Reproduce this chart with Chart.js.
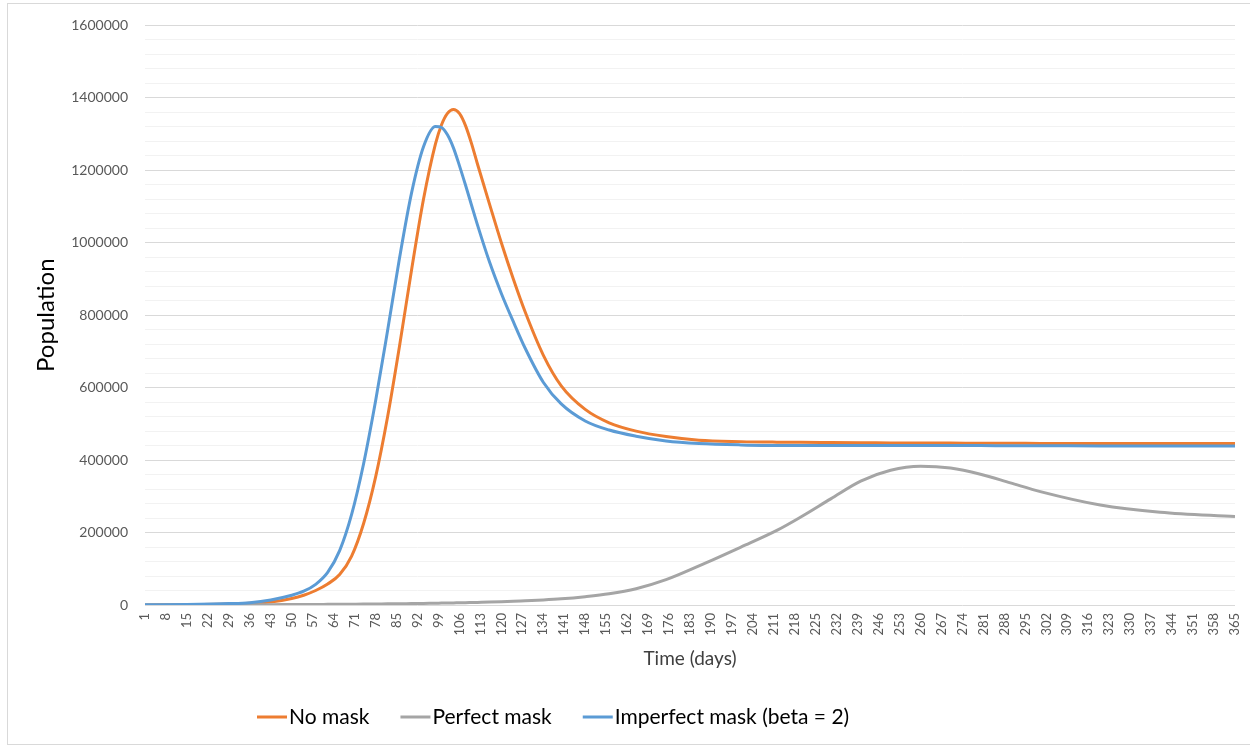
<!DOCTYPE html>
<html>
<head>
<meta charset="utf-8">
<script src="https://cdn.jsdelivr.net/npm/chart.js@4/dist/chart.umd.min.js"></script>
<style>
  html, body { margin: 0; padding: 0; background: #fff; }
  #wrap { width: 1250px; height: 747px; }
</style>
</head>
<body>
<div id="wrap"><canvas id="chart" width="1250" height="747"></canvas></div>
<script>
const days = [1, 15, 29, 36, 43, 50, 54, 58, 62, 66, 70, 74, 78, 82, 86, 90, 94, 98, 100, 102,
  104, 106, 108, 110, 112, 116, 120, 124, 128, 134, 140, 148, 156, 165, 175, 186, 200, 212, 220, 230,
  240, 250, 260, 270, 280, 290, 300, 320, 340, 365];

const noMask = [300, 900, 2500, 4500, 8500, 18000, 27000, 40000, 58000, 84000, 135000, 225000, 353000, 519000, 715000, 924000, 1120000, 1273000, 1325000, 1357000,
  1368000, 1357000, 1324000, 1275000, 1218000, 1108000, 1000000, 900000, 808000, 690000, 605000, 540000, 503000, 480000, 465000, 455000, 451000, 449500, 449000, 448500,
  448000, 447500, 447000, 447000, 446500, 446500, 446000, 446000, 446000, 446000];

const perfectMask = [0, 200, 500, 700, 900, 1200, 1350, 1500, 1750, 2000, 2250, 2500, 2800, 3200, 3500, 4000, 4400, 5000, 5200, 5500,
  5800, 6100, 6400, 6800, 7200, 8000, 9000, 10300, 11800, 14000, 17000, 23000, 31000, 45000, 70000, 108000, 160000, 206000, 243000, 293000,
  342000, 372000, 383000, 378000, 361000, 337000, 313000, 276000, 256000, 244000];

const imperfectMask = [400, 1300, 3800, 6500, 14000, 27000, 38000, 57000, 90000, 150000, 250000, 390000, 563000, 757000, 958000, 1137000, 1265000, 1321000, 1318000, 1298000,
  1262000, 1213000, 1160000, 1105000, 1050000, 948000, 860000, 782000, 708000, 615000, 555000, 508000, 483000, 466000, 453000, 446000, 442000, 440500, 440000, 440000,
  440000, 440000, 440000, 440000, 440000, 439500, 439500, 439000, 439000, 439000];

// x tick labels (every 7 days)
const tickDays = [1, 8, 15, 22, 29, 36, 43, 50, 57, 64, 71, 78, 85, 92, 99, 106, 113, 120, 127, 134,
  141, 148, 155, 162, 169, 176, 183, 190, 197, 204, 211, 218, 225, 232, 239, 246, 253, 260, 267, 274,
  281, 288, 295, 302, 309, 316, 323, 330, 337, 344, 351, 358, 365];

const toPoints = vals => vals.map((v, i) => ({ x: days[i], y: v }));

const frame = {
  id: 'frame',
  beforeDraw(chart) {
    const ctx = chart.ctx;
    ctx.save();
    ctx.fillStyle = '#fff';
    ctx.fillRect(0, 0, chart.width, chart.height);
    ctx.strokeStyle = '#d9d9d9';
    ctx.lineWidth = 1;
    ctx.strokeRect(7.5, 3.5, 1300, 741);
    ctx.restore();
  }
};

const bottomLegend = {
  id: 'bottomLegend',
  afterDraw(chart) {
    const ctx = chart.ctx;
    ctx.save();
    ctx.font = '21px Lato';
    ctx.textBaseline = 'middle';
    let x = 257;
    const y = 717;
    chart.data.datasets.forEach(ds => {
      ctx.fillStyle = ds.borderColor;
      ctx.fillRect(x, y - 1.5, 30, 3);
      x += 32;
      ctx.fillStyle = '#000';
      ctx.fillText(ds.label, x, y);
      x += ctx.measureText(ds.label).width + 31;
    });
    ctx.restore();
  }
};

new Chart(document.getElementById('chart'), {
  type: 'line',
  data: {
    datasets: [
      { label: 'No mask', data: toPoints(noMask), borderColor: '#ED7D31', order: 3 },
      { label: 'Perfect mask', data: toPoints(perfectMask), borderColor: '#A5A5A5', order: 2 },
      { label: 'Imperfect mask (beta = 2)', data: toPoints(imperfectMask), borderColor: '#5B9BD5', order: 1 }
    ]
  },
  options: {
    responsive: false,
    animation: false,
    layout: { padding: { left: 8, right: 15, top: 24, bottom: 77 } },
    elements: {
      point: { radius: 0 },
      line: { borderWidth: 3, cubicInterpolationMode: 'monotone', fill: false }
    },
    plugins: {
      legend: { display: false },
      tooltip: { enabled: false }
    },
    scales: {
      x: {
        type: 'linear',
        min: 1,
        max: 365,
        grid: { display: false, drawTicks: false },
        border: { display: false },
        afterBuildTicks: scale => { scale.ticks = tickDays.map(v => ({ value: v })); },
        afterFit: scale => {
          scale.height = 65;
          scale.paddingLeft = 0;
          scale.paddingRight = 0;
        },
        ticks: {
          autoSkip: false,
          maxRotation: 90,
          minRotation: 90,
          padding: 8,
          color: '#595959',
          font: { family: 'Lato', size: 13 },
          callback: v => String(v)
        },
        title: {
          display: true,
          text: 'Time (days)',
          color: '#404040',
          padding: 0,
          font: { family: 'Lato', size: 19 }
        }
      },
      y: {
        min: 0,
        max: 1600000,
        border: { display: false },
        afterFit: scale => { scale.width = 137; },
        grid: {
          drawTicks: false,
          color: c => (c.tick.value % 200000 === 0 ? '#d9d9d9' : '#f2f2f2')
        },
        ticks: {
          stepSize: 40000,
          maxTicksLimit: 50,
          autoSkip: false,
          padding: 17,
          color: '#595959',
          font: { family: 'Lato', size: 14 },
          callback: v => (v % 200000 === 0 ? String(v) : '')
        },
        title: {
          display: true,
          text: 'Population',
          color: '#000',
          padding: { top: 24, bottom: 0 },
          font: { family: 'Lato', size: 24 }
        }
      }
    }
  },
  plugins: [frame, bottomLegend]
});
</script>
</body>
</html>
